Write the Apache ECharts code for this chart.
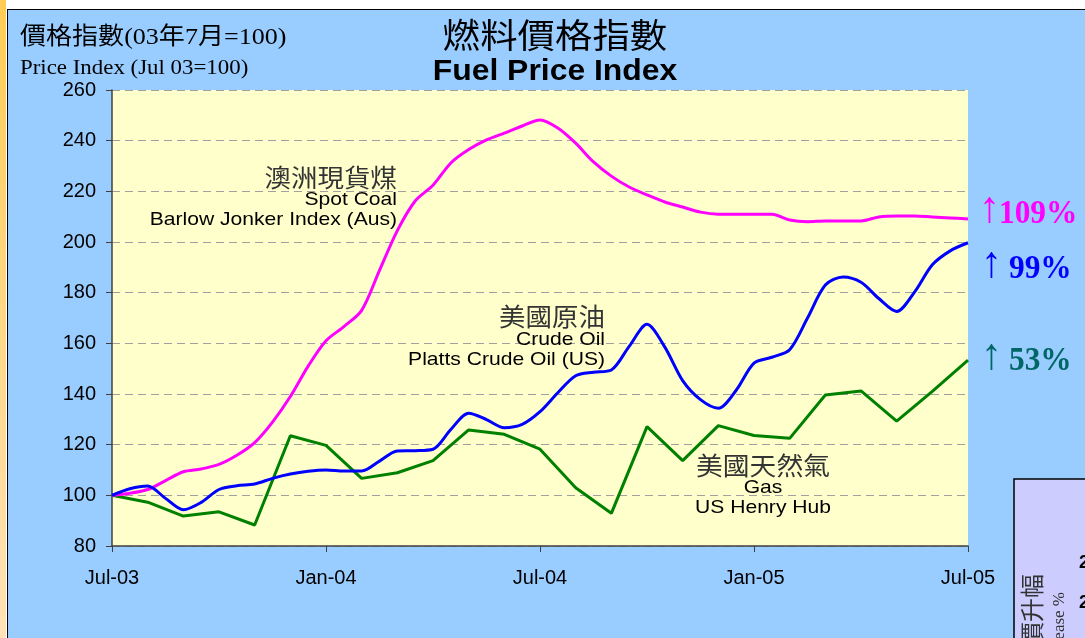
<!DOCTYPE html>
<html>
<head>
<meta charset="utf-8">
<script src="https://cdn.jsdelivr.net/npm/echarts/dist/echarts.min.js"></script>
<style>
  html, body { margin: 0; padding: 0; background: #ffffff; }
  #strip { position: absolute; left: 0; top: 0; width: 6px; height: 638px;
           background: linear-gradient(#FFCC55, #FFE2B8); }
  #panel { position: absolute; left: 7px; top: 9px; width: 1100px; height: 660px;
           background: #99CCFF; border-left: 1.5px solid #000; border-top: 1.5px solid #000; }
  #chart { position: absolute; left: 0; top: 0; width: 1085px; height: 638px; }
</style>
</head>
<body>
<div id="strip"></div>
<div id="panel"></div>
<div id="chart"></div>
<script>
// ---- data ----
const tickLabels = ['Jul-03', 'Jan-04', 'Jul-04', 'Jan-05', 'Jul-05'];
// half-monthly samples from Jul-03 (index 0) to Jul-05 (index 48)
const coal = [100, 100.8, 102.3, 105.8, 109.3, 110.4, 112.2, 115.8, 120.8, 128.9,
  139, 151, 161, 166.6, 173, 188.8, 204.5, 216.2, 222.4, 231.2,
  236.5, 240.3, 243, 245.8, 248.2, 245, 239, 231.6, 226, 221.7,
  218.6, 215.8, 213.8, 211.8, 211, 211, 211, 211, 208.7, 208,
  208.3, 208.3, 208.3, 209.9, 210.3, 210.3, 209.9, 209.5, 209.1];
const crude = [100, 102.6, 103.7, 98.8, 94.3, 97.2, 102.3, 103.8, 104.5, 106.7,
  108.4, 109.5, 110, 109.6, 109.6, 113.5, 117.5, 117.6, 118.2, 126,
  132.4, 129.9, 126.7, 128, 133, 140.5, 147.2, 148.6, 149.5, 158.8,
  167.5, 158.5, 145.3, 137.8, 134.4, 141.5, 152.2, 154.5, 157.5, 170,
  183, 186.2, 184.1, 177.7, 172.6, 180.2, 191, 196.5, 199.7];
// monthly samples Jul-03 .. Jul-05
const gas = [100, 97.3, 91.8, 93.5, 88.3, 123.5, 119.7, 106.7, 108.9, 113.7,
  125.8, 124.1, 118.2, 103, 92.9, 127.1, 113.7, 127.5, 123.6, 122.5,
  139.6, 141.2, 129.3, 141, 153.4];
const changeLabels = ['109%', '99%', '53%'];
const upArrow = '↑';

// ---- chart ----
const half = arr => arr.map((v, i) => [i * 0.5, v]);
const monthly = arr => arr.map((v, i) => [i, v]);

const sans = "'Liberation Sans', Arial, sans-serif";
const serif = "'Liberation Serif', 'Times New Roman', 'Noto Sans CJK TC', serif";
const cjk = "'Noto Sans CJK TC', sans-serif";

function txt(x, y, text, font, fill, align, sx, extra) {
  return Object.assign({
    type: 'text', x: x, y: y, silent: true, z: 10, scaleX: sx || 1,
    style: { x: 0, y: 0, text: text, font: font, fill: fill,
             align: align, textAlign: align,
             verticalAlign: 'middle', textVerticalAlign: 'middle' }
  }, extra || {});
}

const chart = echarts.init(document.getElementById('chart'), null, { renderer: 'canvas' });
chart.setOption({
  backgroundColor: 'transparent',
  animation: false,
  grid: { left: 112, top: 90, right: 117, bottom: 92, show: true,
          backgroundColor: '#FFFFCC', borderWidth: 0 },
  xAxis: {
    type: 'value', min: 0, max: 24, interval: 6,
    axisLine: { lineStyle: { color: '#404040', width: 1.5 } },
    axisTick: { show: true, inside: false, length: 6, lineStyle: { color: '#404040' } },
    splitLine: { show: false },
    axisLabel: { color: '#000', fontFamily: sans, fontSize: 20, margin: 22,
                 formatter: v => tickLabels[Math.round(v / 6)] }
  },
  yAxis: {
    type: 'value', min: 80, max: 260, interval: 20,
    axisLine: { show: true, lineStyle: { color: '#404040', width: 1.5 } },
    axisTick: { show: true, inside: false, length: 6, lineStyle: { color: '#404040' } },
    splitLine: { show: true, lineStyle: { color: '#A0A0A0', type: [8, 5], width: 1.2 } },
    axisLabel: { color: '#000', fontFamily: sans, fontSize: 20, margin: 16 }
  },
  series: [
    { name: 'Coal', type: 'line', data: half(coal), smooth: 0.3, showSymbol: false,
      lineStyle: { color: '#FF00FF', width: 3 }, z: 3 },
    { name: 'Crude', type: 'line', data: half(crude), smooth: 0.3, showSymbol: false,
      lineStyle: { color: '#0000FF', width: 3 }, z: 4 },
    { name: 'Gas', type: 'line', data: monthly(gas), smooth: false, showSymbol: false,
      lineStyle: { color: '#008000', width: 3 }, z: 2 }
  ],
  graphic: [
    // titles
    txt(555, 35, '燃料價格指數', '34px ' + cjk, '#000', 'center', 1.1),
    txt(555, 72, 'Fuel Price Index', 'bold 29px ' + sans, '#000', 'center', 1.1),
    txt(20, 38, '價格指數(03年7月=100)', '24px ' + serif, '#000', 'left', 1.085),
    txt(20, 68, 'Price Index (Jul 03=100)', '22px ' + serif, '#000', 'left', 1.04),
    // series annotations
    txt(397, 177, '澳洲現貨煤', '25px ' + cjk, '#333', 'right', 1.06),
    txt(397, 200, 'Spot Coal', '19px ' + sans, '#000', 'right', 1.11),
    txt(397, 220, 'Barlow Jonker Index (Aus)', '19px ' + sans, '#000', 'right', 1.11),
    txt(605, 316, '美國原油', '25px ' + cjk, '#333', 'right', 1.06),
    txt(605, 340, 'Crude Oil', '19px ' + sans, '#000', 'right', 1.11),
    txt(605, 360, 'Platts Crude Oil (US)', '19px ' + sans, '#000', 'right', 1.11),
    txt(763, 465, '美國天然氣', '25px ' + cjk, '#333', 'center', 1.07),
    txt(763, 488, 'Gas', '19px ' + sans, '#000', 'center', 1.11),
    txt(763, 508, 'US Henry Hub', '19px ' + sans, '#000', 'center', 1.11),
    // change labels
    txt(979, 211, upArrow, 'bold 44px ' + serif, '#FF00FF', 'left', 0.95),
    txt(999, 214, changeLabels[0], 'bold 33px ' + serif, '#FF00FF', 'left', 0.95),
    txt(981, 266, upArrow, 'bold 44px ' + serif, '#0000FF', 'left', 0.95),
    txt(1009, 269, changeLabels[1], 'bold 33px ' + serif, '#0000FF', 'left', 0.95),
    txt(981, 358, upArrow, 'bold 44px ' + serif, '#006666', 'left', 0.95),
    txt(1009, 361, changeLabels[2], 'bold 33px ' + serif, '#006666', 'left', 0.95),
    // partial neighbouring panel (bottom right)
    { type: 'rect', z: 5, silent: true, shape: { x: 1014, y: 479, width: 120, height: 200 },
      style: { fill: '#CCCCFF', stroke: '#000', lineWidth: 1.5 } },
    txt(1032, 574, '價升幅', '24px ' + cjk, '#333', 'right', 1, { rotation: Math.PI / 2 }),
    txt(1060, 592, 'Increase %', '17px ' + serif, '#333', 'right', 1, { rotation: Math.PI / 2 }),
    txt(1079, 563, '20', 'bold 18px ' + sans, '#000', 'left'),
    txt(1079, 603, '20', 'bold 18px ' + sans, '#000', 'left')
  ]
});
</script>
</body>
</html>
